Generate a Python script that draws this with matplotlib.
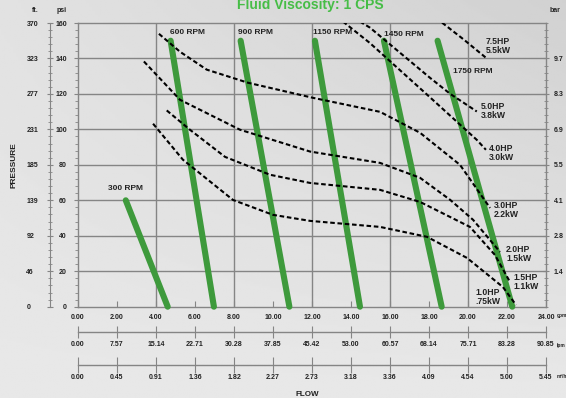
import numpy as np
import matplotlib
matplotlib.use("Agg")
import matplotlib.pyplot as plt

plt.rcParams['font.family'] = ['Liberation Sans', 'DejaVu Sans']
plt.rcParams['font.weight'] = 'bold'

# ---- data (flow in gpm, pressure in psi) ----
rpm_labels = ['300 RPM', '600 RPM', '900 RPM', '1150 RPM', '1450 RPM', '1750 RPM']
rpm_flow = [[2.45, 4.6], [4.75, 6.97], [8.34, 10.84], [12.15, 14.46], [15.69, 18.65], [18.44, 22.27]]
rpm_psi = [[60, 0], [150, 0], [150, 0], [150, 0], [150, 0], [150, 0]]
rpm_label_xy = [(1.55, 66.5), (4.72, 154.4), (8.22, 154.4), (12.03, 154.4), (15.69, 153.4), (19.25, 132.7)]

hp_labels = ['7.5HP\n5.5kW', '5.0HP\n3.8kW', '4.0HP\n3.0kW', '3.0HP\n2.2kW',
             '2.0HP\n1.5kW', '1.5HP\n1.1kW', '1.0HP\n.75kW']
hp_flow = [
    [18.67, 19.79, 20.92],
    [14.46, 14.97, 18.05, 19.08, 20.45],
    [13.59, 14.97, 18.05, 20.45, 20.92],
    [4.15, 5.23, 6.60, 8.72, 12.05, 15.49, 17.54, 19.59, 21.13],
    [3.38, 5.23, 8.31, 11.90, 15.49, 17.54, 19.08, 20.26, 21.64],
    [4.55, 5.74, 7.54, 9.85, 11.90, 15.49, 17.54, 20.10, 21.38, 22.15],
    [3.85, 5.38, 7.95, 10.0, 11.90, 15.49, 17.9, 19.95, 21.79, 22.46],
]
hp_psi = [
    [160.2, 150.6, 140.4],
    [160.8, 157.4, 129.1, 120.1, 110.1],
    [160.8, 148.7, 118.1, 94.1, 88.5],
    [153.9, 143.8, 133.7, 126.3, 117.8, 109.9, 98.1, 80.0, 55.7],
    [138.3, 116.7, 99.8, 87.5, 81.1, 72.7, 60.3, 49.0, 30.9],
    [110.7, 99.8, 84.5, 74.4, 69.8, 65.9, 59.1, 45.0, 29.2, 14.0],
    [103.2, 82.9, 60.2, 51.8, 48.4, 45.0, 39.4, 27.5, 11.1, 1.0],
]
hp_label_xy = [(20.92, 146.8), (20.67, 110.1), (21.08, 86.9), (21.3, 54.3),
               (21.95, 29.9), (22.32, 13.9), (20.39, 5.6)]

gpm_ticks = [0, 2, 4, 6, 8, 10, 12, 14, 16, 18, 20, 22, 24]
gpm_labels = ['0.00', '2.00', '4.00', '6.00', '8.00', '10.00', '12.00', '14.00',
              '16.00', '18.00', '20.00', '22.00', '24.00']
lpm_labels = ['0.00', '7.57', '15.14', '22.71', '30.28', '37.85', '45.42', '53.00',
              '60.57', '68.14', '75.71', '83.28', '90.85']
m3h_labels = ['0.00', '0.45', '0.91', '1.36', '1.82', '2.27', '2.73', '3.18',
              '3.36', '4.09', '4.54', '5.00', '5.45']
psi_ticks = [0, 20, 40, 60, 80, 100, 120, 140, 160]
ft_labels = ['0', '46', '92', '139', '185', '231', '277', '323', '370']
bar_ticks = [20, 40, 60, 80, 100, 120, 140]
bar_labels = ['1.4', '2.8', '4.1', '5.5', '6.9', '8.3', '9.7']

W, H = 566, 398
fig = plt.figure(figsize=(W / 100, H / 100), dpi=100)

# soft grey background
bg = fig.add_axes([0, 0, 1, 1], zorder=-10)
gx, gy = np.meshgrid(np.linspace(0, 1, 200), np.linspace(0, 1, 200))
shade = 0.91 - 0.065 * gx * gy - 0.025 * gy
bg.imshow(shade, cmap='gray', vmin=0, vmax=1, aspect='auto', extent=[0, 1, 0, 1], origin='lower')
bg.axis('off')

def fx(px):
    return px / W

def fy(py):
    return 1 - py / H

L, R, T, B = 78, 546, 23, 306.7
ax = fig.add_axes([fx(L), fy(B), fx(R - L), (B - T) / H])
ax.patch.set_alpha(0)
ax.set_xlim(0, 24)
ax.set_ylim(0, 160)

gcol = '#858585'
for g in [4, 8, 12, 16, 20]:
    ax.axvline(g, color=gcol, lw=1.0, zorder=1)
for g in [20, 40, 60, 80, 100, 120, 140]:
    ax.axhline(g, color=gcol, lw=1.0, zorder=1)
for s in ax.spines.values():
    s.set_color(gcol)
    s.set_linewidth(1.0)

ax.set_xticks(gpm_ticks)
ax.set_xticklabels(gpm_labels)
ax.tick_params(axis='x', direction='in', length=4, color=gcol, pad=5, labelsize=5, labelcolor='#222222')
ax.set_yticks(psi_ticks)
ax.set_yticklabels([str(v) for v in psi_ticks])
ax.set_yticks(np.arange(0, 161, 4), minor=True)
ax.tick_params(axis='y', which='major', direction='out', length=3, color=gcol, pad=5, labelsize=5, labelcolor='#222222')
ax.tick_params(axis='y', which='minor', direction='out', length=2, color=gcol)
ax.tick_params(axis='x', which='minor', bottom=False)

# bar axis on the right
axr = ax.twinx()
axr.set_ylim(0, 160)
axr.set_yticks(bar_ticks)
axr.set_yticklabels(bar_labels)
axr.set_yticks(np.arange(0, 161, 4), minor=True)
axr.tick_params(axis='y', which='major', direction='inout', length=5, color=gcol, pad=3, labelsize=5, labelcolor='#222222')
axr.tick_params(axis='y', which='minor', direction='inout', length=3, color=gcol)
for s in axr.spines.values():
    s.set_visible(False)

# RPM lines
green = '#3e9a3c'
for xs, ys in zip(rpm_flow, rpm_psi):
    ax.plot(xs, ys, color=green, lw=4.4, solid_capstyle='round', zorder=3, clip_on=False)
for lab, (x, y) in zip(rpm_labels, rpm_label_xy):
    ax.text(x, y, lab, fontsize=6, fontweight='bold', ha='left', va='center', color='#222222', zorder=5)

# HP curves
for xs, ys in zip(hp_flow, hp_psi):
    ax.plot(xs, ys, color='black', lw=1.5, ls=(0, (2.2, 1.3)), zorder=4,
            solid_joinstyle='round', dash_joinstyle='round')
for lab, (x, y) in zip(hp_labels, hp_label_xy):
    ax.text(x, y, lab, fontsize=6.2, fontweight='bold', ha='left', va='center',
            color='#222222', linespacing=1.0, zorder=5)

# ft axis
axf = fig.add_axes([fx(50), fy(B), 0.0001, (B - T) / H])
axf.patch.set_alpha(0)
axf.set_ylim(0, 160)
axf.set_xticks([])
axf.set_yticks(psi_ticks)
axf.set_yticklabels(ft_labels)
axf.set_yticks(np.arange(0, 161, 4), minor=True)
for s in ['top', 'right', 'bottom']:
    axf.spines[s].set_visible(False)
axf.spines['left'].set_color(gcol)
axf.tick_params(axis='y', which='major', direction='inout', length=5, color=gcol, pad=14.5, labelsize=5, labelcolor='#222222')
axf.tick_params(axis='y', which='minor', direction='inout', length=3, color=gcol)
for t in axf.get_yticklabels():
    t.set_horizontalalignment('left')

# extra flow scales
def flow_scale(py, labels, tick_len, pad):
    a = fig.add_axes([fx(L), fy(py), fx(R - L), 0.0001])
    a.patch.set_alpha(0)
    a.set_xlim(0, 24)
    a.set_yticks([])
    for s in ['top', 'right', 'left']:
        a.spines[s].set_visible(False)
    a.spines['bottom'].set_color(gcol)
    a.spines['bottom'].set_linewidth(1.0)
    a.set_xticks(gpm_ticks)
    a.set_xticklabels(labels)
    a.tick_params(axis='x', direction='inout', length=tick_len, color=gcol, pad=pad, labelsize=5, labelcolor='#222222')
    return a

flow_scale(331.7, lpm_labels, 8, 2.5)
flow_scale(365, m3h_labels, 12, 0.8)

# units and titles
tc = '#222222'
fig.text(fx(31.5), fy(10.7), 'ft.', fontsize=5, ha='left', va='center', color=tc)
fig.text(fx(57), fy(10.7), 'psi', fontsize=5, ha='left', va='center', color=tc)
fig.text(fx(550), fy(10.7), 'bar', fontsize=5, ha='left', va='center', color=tc)
fig.text(fx(556.5), fy(316), 'gpm', fontsize=3.4, ha='left', va='center', color=tc)
fig.text(fx(556.5), fy(345), 'lpm', fontsize=3.4, ha='left', va='center', color=tc)
fig.text(fx(556.5), fy(377), 'm³/h', fontsize=3.4, ha='left', va='center', color=tc)
fig.text(fx(14), fy(165), 'PRESSURE', fontsize=6, rotation=90, ha='center', va='center', color=tc)
fig.text(fx(307), fy(391), 'FLOW', fontsize=5.8, ha='center', va='top', color=tc)
fig.text(fx(310), fy(9.5), 'Fluid Viscosity: 1 CPS', fontsize=10, fontweight='bold',
         ha='center', va='baseline', color='#46bd46')

fig.savefig('out.png', dpi=100)
